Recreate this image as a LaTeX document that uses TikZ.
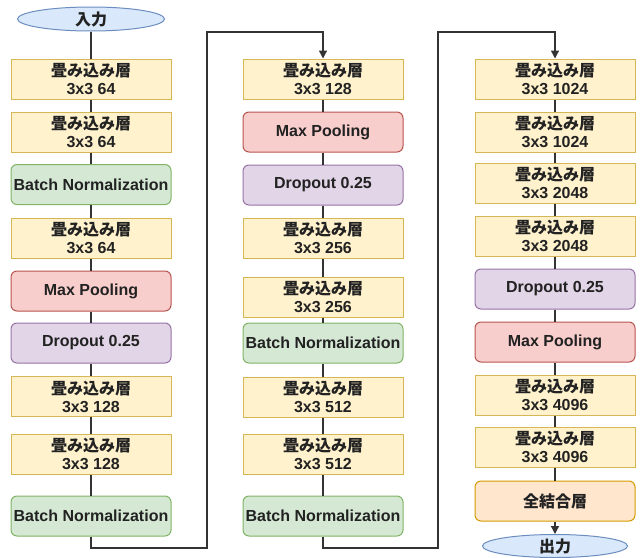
\documentclass[tikz,border=0pt]{standalone}
\usepackage{fontspec}
\setmainfont{Liberation Sans}
\newfontfamily\jp{Noto Sans CJK JP}
\usetikzlibrary{arrows.meta,shapes.geometric}
\definecolor{yfill}{HTML}{FFF2CC}
\definecolor{ydraw}{HTML}{D6B656}
\definecolor{gfill}{HTML}{D5E8D4}
\definecolor{gdraw}{HTML}{82B366}
\definecolor{rfill}{HTML}{F8CECC}
\definecolor{rdraw}{HTML}{B85450}
\definecolor{pfill}{HTML}{E1D5E7}
\definecolor{pdraw}{HTML}{9673A6}
\definecolor{bfill}{HTML}{DAE8FC}
\definecolor{bdraw}{HTML}{6C8EBF}
\definecolor{ofill}{HTML}{FFE6CC}
\definecolor{odraw}{HTML}{D79B00}
\definecolor{txt}{HTML}{222222}
\definecolor{lc}{HTML}{333333}
\newcommand\convtxt[1]{{\jp 畳み込み層}\\3x3 #1}
\tikzset{
  base/.style={draw, line width=1pt, minimum width=160pt, minimum height=40pt,
    inner sep=0pt, align=center, text=txt,
    font=\fontsize{16}{18}\selectfont\bfseries},
  conv/.style={base, fill=yfill, draw=ydraw},
  bnbox/.style={base, rounded corners=6pt, fill=gfill, draw=gdraw},
  poolbox/.style={base, rounded corners=6pt, fill=rfill, draw=rdraw},
  dropbox/.style={base, rounded corners=6pt, fill=pfill, draw=pdraw},
  fcbox/.style={base, rounded corners=6pt, fill=ofill, draw=odraw},
  iobox/.style={ellipse, draw=bdraw, fill=bfill, line width=1pt, inner sep=0pt,
    minimum width=147pt, minimum height=24pt, text=txt,
    font=\fontsize{16}{18}\selectfont\bfseries\jp},
  link/.style={draw=lc, line width=1.3pt},
  arr/.style={link, -{Triangle[length=8pt,width=8pt]}},
}
\begin{document}
\begin{tikzpicture}[x=1pt,y=-1pt]
\useasboundingbox[fill=white] (0,0) rectangle (640,557);
% left column
\node[iobox] (in) at (91,19) {入力};
\node[conv] (L1) at (91,79) {\convtxt{64}};
\node[conv] (L2) at (91,132) {\convtxt{64}};
\node[bnbox] (L3) at (91,184.5) {Batch Normalization};
\node[conv] (L4) at (91,238) {\convtxt{64}};
\node[poolbox] (L5) at (91,291) {Max Pooling};
\node[dropbox] (L6) at (91,343) {Dropout 0.25};
\node[conv] (L7) at (91,396.5) {\convtxt{128}};
\node[conv] (L8) at (91,454) {\convtxt{128}};
\node[bnbox] (L9) at (91,516) {Batch Normalization};
% middle column
\node[conv] (M1) at (323,79) {\convtxt{128}};
\node[poolbox] (M2) at (323,132) {Max Pooling};
\node[dropbox] (M3) at (323,185) {Dropout 0.25};
\node[conv] (M4) at (323,238) {\convtxt{256}};
\node[conv] (M5) at (323,297) {\convtxt{256}};
\node[bnbox] (M6) at (323,343) {Batch Normalization};
\node[conv] (M7) at (323,397) {\convtxt{512}};
\node[conv] (M8) at (323,454) {\convtxt{512}};
\node[bnbox] (M9) at (323,516) {Batch Normalization};
% right column
\node[conv] (R1) at (555,79) {\convtxt{1024}};
\node[conv] (R2) at (555,132) {\convtxt{1024}};
\node[conv] (R3) at (555,183) {\convtxt{2048}};
\node[conv] (R4) at (555,236) {\convtxt{2048}};
\node[dropbox] (R5) at (555,289) {Dropout 0.25};
\node[poolbox] (R6) at (555,342) {Max Pooling};
\node[conv] (R7) at (555,395) {\convtxt{4096}};
\node[conv] (R8) at (555,447) {\convtxt{4096}};
\node[fcbox] (R9) at (555,501) {{\jp 全結合層}};
\node[iobox, minimum width=145pt, minimum height=23pt] (out) at (555,546) {出力};
% in-column links
\draw[link] (in) -- (L1);
\foreach \a/\b in {L1/L2,L2/L3,L3/L4,L4/L5,L5/L6,L6/L7,L7/L8,L8/L9,
                   M1/M2,M2/M3,M3/M4,M4/M5,M5/M6,M6/M7,M7/M8,M8/M9,
                   R1/R2,R2/R3,R3/R4,R4/R5,R5/R6,R6/R7,R7/R8,R8/R9}
  \draw[link] (\a) -- (\b);
% column-to-column links
\coordinate (b1) at (207,548);
\coordinate (t1) at (207,32);
\coordinate (b2) at (438,548);
\coordinate (t2) at (438,32);
\draw[arr] (L9) |- (b1) -- (t1) -| (M1);
\draw[arr] (M9) |- (b2) -- (t2) -| (R1);
\draw[arr] (R9) -- (out);
\end{tikzpicture}
\end{document}
